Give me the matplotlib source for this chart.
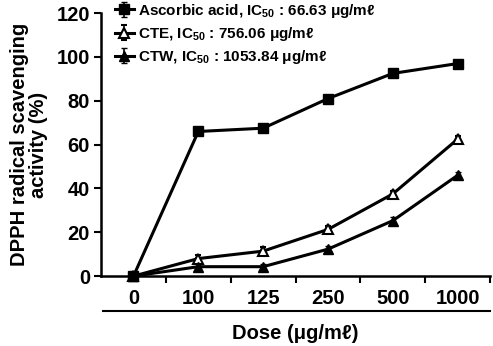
import matplotlib.pyplot as plt
from matplotlib.lines import Line2D

plt.rcParams['font.family'] = ['Liberation Sans', 'DejaVu Sans']
plt.rcParams['font.weight'] = 'bold'
plt.rcParams['mathtext.fontset'] = 'custom'
plt.rcParams['mathtext.rm'] = 'Liberation Sans:bold'
plt.rcParams['mathtext.default'] = 'rm'

doses = ['0', '100', '125', '250', '500', '1000']
ascorbic = [0, 66, 67.5, 81, 92.5, 97]
ascorbic_err = [0, 1.0, 1.0, 1.0, 1.0, 1.0]
cte = [0, 8, 11.4, 21.3, 37.5, 62.5]
cte_err = [0, 1.8, 1.8, 1.5, 1.5, 1.5]
ctw = [0, 4.3, 4.3, 12.3, 25.3, 46]
ctw_err = [0, 1.0, 1.0, 1.5, 1.5, 1.5]

fig = plt.figure(figsize=(4.93, 3.46), dpi=100)
ax = fig.add_axes([0.205, 0.202, 0.789, 0.76])
x = list(range(len(doses)))

style = dict(color='black', lw=2.2, ms=7.5, capsize=2.5, elinewidth=1.2, clip_on=False, zorder=3)
ax.errorbar(x, ascorbic, yerr=ascorbic_err, marker='s', mfc='black', mec='black',
            label=r'Ascorbic acid, IC$_{50}$ : 66.63 μg/mℓ', **style)
ax.errorbar(x, cte, yerr=cte_err, marker='^', mfc='white', mec='black', mew=1.5,
            label=r'CTE, IC$_{50}$ : 756.06 μg/mℓ', **style)
ax.errorbar(x, ctw, yerr=ctw_err, marker='^', mfc='black', mec='black',
            label=r'CTW, IC$_{50}$ : 1053.84 μg/mℓ', **style)

ax.set_xlim(-0.5, 5.5)
ax.set_ylim(0, 120)
ax.set_yticks(range(0, 121, 20))
ax.set_xticks(x)
ax.set_xticklabels(doses)
ax.set_xticks([i + 0.5 for i in x], minor=True)
ax.tick_params(axis='x', which='major', length=0, pad=9, labelsize=14.5)
ax.tick_params(axis='x', which='minor', length=5, width=1.5, direction='out')
ax.tick_params(axis='y', length=5, width=1.5, direction='out', pad=3, labelsize=14.5)
for s in ['top', 'right']:
    ax.spines[s].set_visible(False)
for s in ['left', 'bottom']:
    ax.spines[s].set_linewidth(1.8)

ax.set_ylabel('DPPH radical scavenging\nactivity (%)', fontsize=14.5, fontweight='bold',
              linespacing=1.0, labelpad=6)
ax.set_xlabel('Dose (μg/mℓ)', fontsize=14.5, fontweight='bold', labelpad=12)

# second rule under the tick labels
fig.add_artist(Line2D([0.209, 0.994], [0.101, 0.101], color='black', lw=1.5))

leg = ax.legend(loc='upper left', bbox_to_anchor=(0.035, 1.043), frameon=False,
                prop={'size': 11, 'weight': 'bold'}, handlelength=1.25,
                handletextpad=0.3, labelspacing=0.33, borderaxespad=0, borderpad=0)

fig.savefig('out.png', dpi=100)
